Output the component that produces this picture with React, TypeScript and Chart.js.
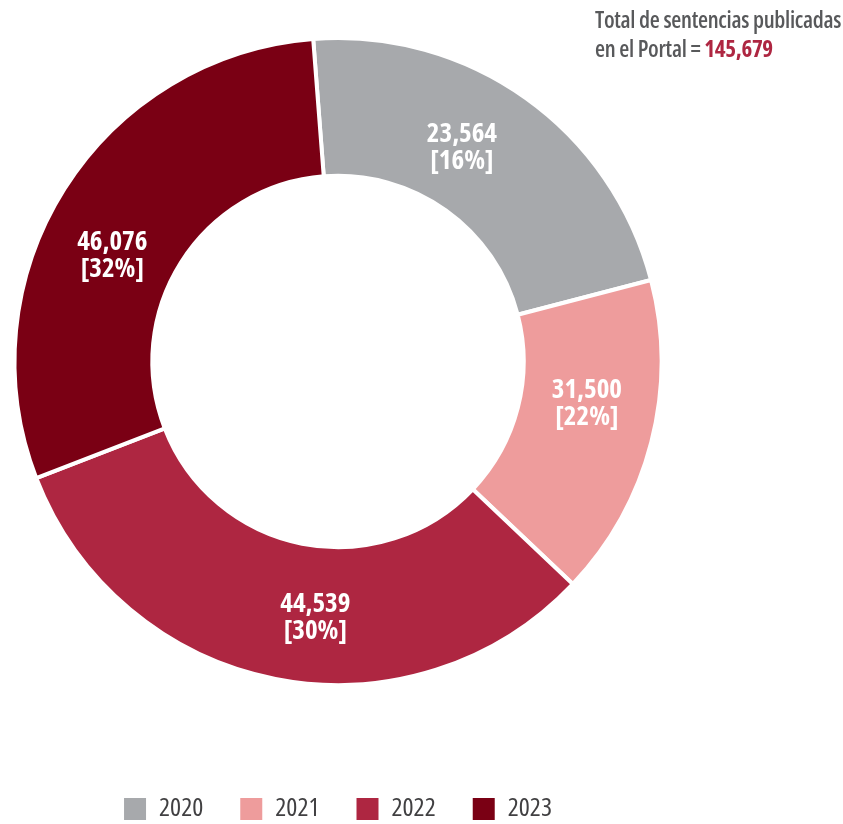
import React, { useEffect, useRef } from "react";
import { Chart, registerables } from "chart.js";

Chart.register(...registerables);

// Categories (legend)
const years = ["2020", "2021", "2022", "2023"];
// Slice sizes as drawn in the reference (read from the arcs' angular extent)
const sliceValues = [32300, 23500, 46700, 43200];
// Printed labels
const valueLabels = ["23,564", "31,500", "44,539", "46,076"];
const percentLabels = ["[16%]", "[22%]", "[30%]", "[32%]"];
const totalLabel = "145,679";
const colors = ["#A7A9AC", "#EE9C9C", "#AE2641", "#7A0014"];

const FAMILY = "'Open Sans', 'DejaVu Sans Condensed', sans-serif";

const sliceLabelPlugin = {
  id: "sliceLabels",
  afterDatasetsDraw(chart: any) {
    const ctx = chart.ctx as CanvasRenderingContext2D;
    const meta = chart.getDatasetMeta(0);
    meta.data.forEach((arc: any, i: number) => {
      const p = arc.getProps(["x", "y", "startAngle", "endAngle", "innerRadius", "outerRadius"], true);
      const mid = (p.startAngle + p.endAngle) / 2 - (6 * Math.PI) / 180;
      const r = (p.innerRadius + p.outerRadius) / 2 - 3;
      const cx = p.x + Math.cos(mid) * r;
      const cy = p.y + Math.sin(mid) * r + 5;
      ctx.save();
      ctx.font = `700 condensed 27px ${FAMILY}`;
      ctx.fillStyle = "#ffffff";
      ctx.textAlign = "center";
      ctx.textBaseline = "middle";
      ctx.fillText(valueLabels[i], cx, cy - 13);
      ctx.fillText(percentLabels[i], cx, cy + 14);
      ctx.restore();
    });
  },
};

export default function App() {
  const ref = useRef<HTMLCanvasElement>(null);

  useEffect(() => {
    document.body.style.margin = "0";
    const canvas = ref.current!;
    const chart = new Chart(canvas, {
      type: "doughnut",
      data: {
        labels: years,
        datasets: [
          {
            data: sliceValues,
            backgroundColor: colors,
            borderColor: "#ffffff",
            borderWidth: 4,
            hoverOffset: 0,
          },
        ],
      },
      options: {
        responsive: false,
        animation: false,
        rotation: -4.4,
        cutout: "57.4%",
        layout: { padding: { top: 36, left: 0, right: 167, bottom: -8 } },
        plugins: {
          tooltip: { enabled: false },
          legend: {
            position: "bottom",
            title: {
              display: true,
              text: " ",
              font: { size: 1, lineHeight: 1 },
              padding: { top: 71, bottom: 0 },
            },
            labels: {
              boxWidth: 22,
              boxHeight: 22,
              padding: 37,
              color: "#414042",
              font: { family: FAMILY, size: 26, weight: "500 condensed" as any },
              generateLabels: (c: any) =>
                (Chart as any).overrides.doughnut.plugins.legend.labels
                  .generateLabels(c)
                  .map((l: any) => ({ ...l, lineWidth: 0 })),
            },
          },
        },
      } as any,
      plugins: [sliceLabelPlugin],
    });
    return () => chart.destroy();
  }, []);

  return (
    <div style={{ position: "relative", width: 843, height: 824, overflow: "hidden", background: "#fff" }}>
      <canvas ref={ref} width={843} height={824} style={{ position: "absolute", left: 0, top: 0 }} />
      <div
        style={{
          position: "absolute",
          left: 595,
          top: 5,
          fontFamily: FAMILY,
          fontStretch: "75%",
          fontSize: 23,
          lineHeight: "29px",
          fontWeight: 600,
          letterSpacing: "-0.3px",
          color: "#58595B",
          whiteSpace: "nowrap",
        }}
      >
        Total de sentencias publicadas
        <br />
        en el Portal = <span style={{ fontWeight: 700, color: "#AE2641" }}>{totalLabel}</span>
      </div>
    </div>
  );
}
